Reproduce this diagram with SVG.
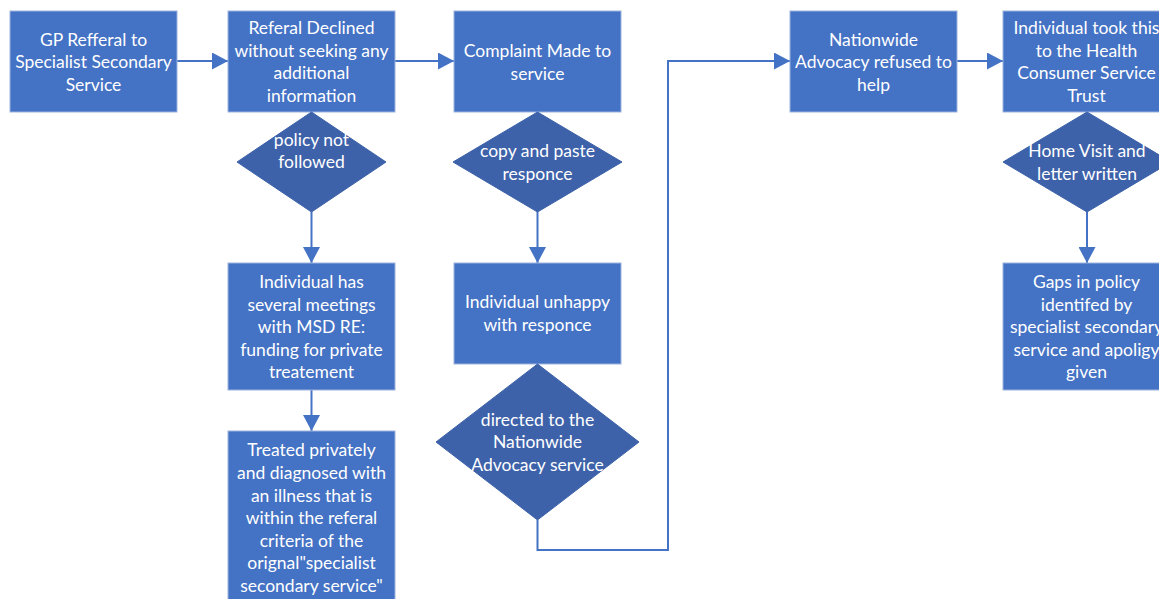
<svg xmlns="http://www.w3.org/2000/svg" width="1159" height="599" viewBox="0 0 1159 599">
<defs>
<marker id="ah" markerWidth="16" markerHeight="17" refX="16" refY="8.5" orient="auto" markerUnits="userSpaceOnUse">
<path d="M0,0 L16,8.5 L0,17 Z" fill="#4472C4"/>
</marker>
<style>
.box{fill:#4472C4;stroke:#9DB3DE;stroke-width:1}
.dia{fill:#3D62AA;stroke:#3D62AA;stroke-width:1}
.t{font-family:Lato,"Open Sans","Liberation Sans",sans-serif;font-size:17.5px;fill:#FFFFFF;text-anchor:middle}
.c{fill:none;stroke:#4472C4;stroke-width:2}
</style>
</defs>
<rect width="1159" height="599" fill="#FFFFFF"/>
<g id="connectors">
<path class="c" d="M177,61 H228" marker-end="url(#ah)"/>
<path class="c" d="M395,61 H454" marker-end="url(#ah)"/>
<path class="c" d="M957,61 H1003" marker-end="url(#ah)"/>
<path class="c" d="M311.5,212 V263" marker-end="url(#ah)"/>
<path class="c" d="M311.5,390 V431" marker-end="url(#ah)"/>
<path class="c" d="M537.5,212 V263" marker-end="url(#ah)"/>
<path class="c" d="M537.5,520 V550 H668 V61 H790" marker-end="url(#ah)"/>
<path class="c" d="M1087,212 V263" marker-end="url(#ah)"/>
</g>
<g id="n1"><rect class="box" x="10" y="11" width="167" height="101"/>
<text class="t" x="93.5" y="45.5">GP Refferal to</text><text class="t" x="93.5" y="68">Specialist Secondary</text><text class="t" x="93.5" y="90.5">Service</text></g>
<g id="n2"><rect class="box" x="228" y="11" width="167" height="101"/>
<text class="t" x="311.5" y="34">Referal Declined</text><text class="t" x="311.5" y="56.5">without seeking any</text><text class="t" x="311.5" y="79">additional</text><text class="t" x="311.5" y="101.5">information</text></g>
<g id="n3"><rect class="box" x="454" y="11" width="167" height="101"/>
<text class="t" x="537.5" y="57">Complaint Made to</text><text class="t" x="537.5" y="79.5">service</text></g>
<g id="n4"><rect class="box" x="790" y="11" width="167" height="101"/>
<text class="t" x="873.5" y="45.5">Nationwide</text><text class="t" x="873.5" y="68">Advocacy refused to</text><text class="t" x="873.5" y="90.5">help</text></g>
<g id="n5"><rect class="box" x="1003" y="11" width="167" height="101"/>
<text class="t" x="1086.5" y="34">Individual took this</text><text class="t" x="1086.5" y="56.5">to the Health</text><text class="t" x="1086.5" y="79">Consumer Service</text><text class="t" x="1086.5" y="101.5">Trust</text></g>
<g id="d1"><polygon class="dia" points="311.5,112 386,162 311.5,212 237,162"/>
<text class="t" x="311.5" y="146">policy not</text><text class="t" x="311.5" y="168">followed</text></g>
<g id="d2"><polygon class="dia" points="537.5,112 622,162 537.5,212 453,162"/>
<text class="t" x="537.5" y="157">copy and paste</text><text class="t" x="537.5" y="179.5">responce</text></g>
<g id="d3"><polygon class="dia" points="1087,112 1171,162 1087,212 1003,162"/>
<text class="t" x="1087" y="157">Home Visit and</text><text class="t" x="1087" y="179.5">letter written</text></g>
<g id="n6"><rect class="box" x="228" y="263" width="167" height="127"/>
<text class="t" x="311.5" y="288">Individual has</text><text class="t" x="311.5" y="310.5">several meetings</text><text class="t" x="311.5" y="333">with MSD RE:</text><text class="t" x="311.5" y="355.5">funding for private</text><text class="t" x="311.5" y="378">treatement</text></g>
<g id="n7"><rect class="box" x="228" y="431" width="167" height="175"/>
<text class="t" x="311.5" y="456">Treated privately</text><text class="t" x="311.5" y="479">and diagnosed with</text><text class="t" x="311.5" y="501.5">an illness that is</text><text class="t" x="311.5" y="524">within the referal</text><text class="t" x="311.5" y="546.5">criteria of the</text><text class="t" x="311.5" y="569">orignal"specialist</text><text class="t" x="311.5" y="591.5">secondary service"</text></g>
<g id="n8"><rect class="box" x="454" y="263" width="167" height="101"/>
<text class="t" x="537.5" y="308">Individual unhappy</text><text class="t" x="537.5" y="331">with responce</text></g>
<g id="d4"><polygon class="dia" points="537.5,364 639,442 537.5,520 436,442"/>
<text class="t" x="537.5" y="425.5">directed to the</text><text class="t" x="537.5" y="448">Nationwide</text><text class="t" x="537.5" y="470.5">Advocacy service</text></g>
<g id="n9"><rect class="box" x="1003" y="263" width="167" height="127"/>
<text class="t" x="1086.5" y="288">Gaps in policy</text><text class="t" x="1086.5" y="310.5">identifed by</text><text class="t" x="1086.5" y="333">specialist secondary</text><text class="t" x="1086.5" y="355.5">service and apoligy</text><text class="t" x="1086.5" y="378">given</text></g>
</svg>
